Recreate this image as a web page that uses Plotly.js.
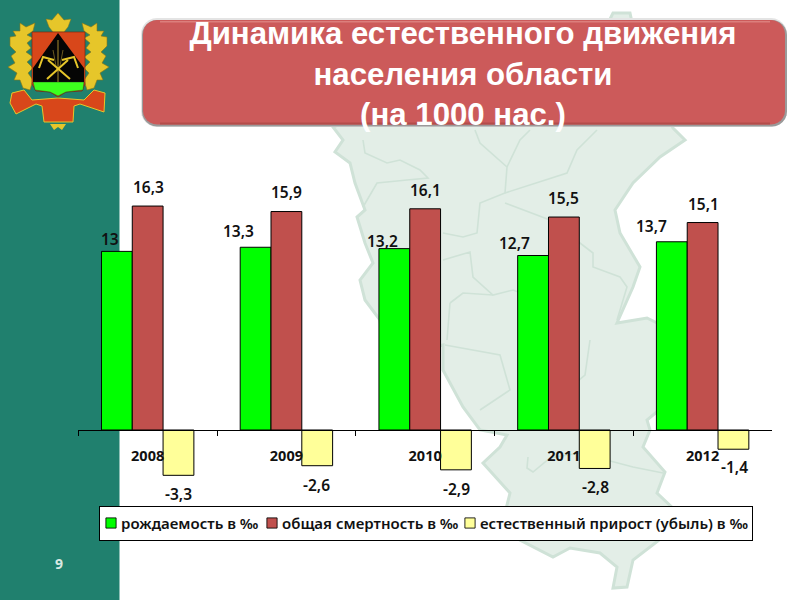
<!DOCTYPE html>
<html><head><meta charset="utf-8">
<script src="https://cdn.plot.ly/plotly-3.0.1.min.js"></script>
<style>html,body{margin:0;padding:0;background:#fff}#c{width:800px;height:600px}</style>
</head><body><div id="c"></div>
<script>
const years = ['2008','2009','2010','2011','2012'];
const birth = [13,13.3,13.2,12.7,13.7];
const death = [16.3,15.9,16.1,15.5,15.1];
const natural = [-3.3,-2.6,-2.9,-2.8,-1.4];
const seriesNames = ['рождаемость в ‰','общая смертность в ‰','естественный прирост (убыль) в ‰'];
const titleText = 'Динамика естественного движения<br>населения области<br>(на 1000 нас.)';

// label nudges in px, relative to the end of each bar
const nudgeBirth = [[-7,12],[-17,16],[-12,8],[-19,13],[-20,16]];
const nudgeDeath = [[1,19],[0,20],[0,19],[0,19],[1,19]];
const nudgeNat = [[0,-19],[-1,-19],[1,-19],[1,-19],[1,-18]];

const W=800,H=600;
const fmt = v => String(v).replace('.',',');
const NOTO='"Noto Sans","Open Sans",sans-serif';
const LABEL_FONT = {family:NOTO,size:15.5,color:'#111',weight:600};
const barShare = 92.4/138.7;
const barW = barShare/3;

function labels(vals,nudge,off){
  return vals.map((v,i)=>({xref:'x',yref:'y',x:i+off*barW,y:v,text:fmt(v),showarrow:false,
    xanchor:'center',yanchor:'middle',xshift:nudge[i][0],yshift:nudge[i][1],font:LABEL_FONT}));
}
// decorative page furniture in page pixels
const P=(pts,close)=>pts.map((p,i)=>(i?'L':'M')+(p[0]/W).toFixed(5)+','+(1-p[1]/H).toFixed(5)).join(' ')+(close?' Z':'');
const shape=(pts,fill,line,lw,close=true)=>({type:'path',xref:'paper',yref:'paper',layer:'below',path:P(pts,close),
  fillcolor:fill||'rgba(0,0,0,0)',line:{color:line||'rgba(0,0,0,0)',width:lw||0}});
const rect=(x0,y0,x1,y1,fill)=>shape([[x0,y0],[x1,y0],[x1,y1],[x0,y1]],fill);
function rounded(x0,y0,x1,y1,r,fill,line,lw){
  const c=(x,y,a)=>{const o=[];for(let k=0;k<=6;k++){const t=a+k/6*Math.PI/2;o.push([x+r*Math.cos(t),y+r*Math.sin(t)]);}return o;};
  return shape([...c(x1-r,y1-r,0),...c(x0+r,y1-r,Math.PI/2),...c(x0+r,y0+r,Math.PI),...c(x1-r,y0+r,-Math.PI/2)],fill,line,lw);
}
const MAPFILL='#e3eee7',MAPLINE='#cfe2d7';
const mapOutline=[[333,127],[343,140],[335,152],[350,163],[355,183],[365,210],[357,217],[365,243],[373,263],[360,280],[365,300],[380,320],[385,360],
 [443,345],[443,370],[463,407],[480,430],[507,435],[500,447],[483,463],[510,493],[505,513],[520,540],[553,557],[570,548],[600,553],[617,567],[613,588],[627,587],[633,560],[663,537],[675,510],[657,493],[665,472],[643,447],[650,430],[647,420],[665,405],[665,327],[647,318],[617,323],[633,287],[640,267],[620,233],[615,210],[633,183],[660,157],[685,140],[673,128],[640,60],[630,13],[613,13],[590,60],[400,100]];
const mapLines=[
 [[363,140],[365,153],[387,163],[400,160],[420,170],[428,178],[407,180],[377,183],[363,207]],
 [[475,130],[480,143],[507,167],[505,193],[480,203],[477,233],[463,237],[443,233]],
 [[507,167],[520,140],[530,130]],
 [[505,193],[567,173],[577,150],[597,130]],
 [[505,203],[550,220],[593,253],[593,267],[620,277],[627,287],[617,320]],
 [[443,260],[470,252],[473,277],[493,295],[513,290],[540,300]],
 [[450,303],[463,293],[493,295]],
 [[450,303],[447,340]],
 [[590,340],[585,375],[555,400],[545,430]],
 [[445,345],[500,355],[510,390],[480,410]],
 [[528,457],[527,468],[533,472],[550,458],[580,453],[633,467],[663,473]]
];
const gold='#e6c62a',orange='#d8471a',darkg='#8a7514';
const laurelL=[[10,37],[16,36],[13,31],[20,31],[20,23],[26,27],[35,23],[33,31],[27,35],[33,38],[27,43],[31,48],[26,52],[33,57],[27,62],[33,68],[28,73],[33,80],[30,90],[23,88],[20,80],[14,80],[17,73],[8,67],[15,63],[11,56],[16,52],[10,46]];
const laurelR=laurelL.map(p=>[117-p[0],p[1]]);
const crest=[
 shape(laurelL,gold,darkg,0.6),
 shape(laurelR,gold,darkg,0.6),
 shape([[46,19],[52,20],[58,13],[64,20],[71,19],[68,27],[64,32],[53,32],[49,27]],gold,darkg,0.5),
 shape([[10,103],[12,93],[24,90],[32,100],[58,98],[84,100],[94,90],[105,93],[104,112],[80,104],[74,106],[73,122],[44,122],[42,106],[36,104],[16,114]],orange,gold,1),
 shape([[50,124],[66,124],[62,130],[58,127],[54,130]],gold),
 shape([[32,32],[85,32],[85,84],[82,91],[66,92],[58,97],[50,92],[36,91],[32,84]],orange,'#7a2a10',0.7),
 shape([[58,33],[84,68],[84,82],[33,82],[33,68]],'#050505'),
 shape([[33,82],[84,82],[83,90],[66,92],[58,96],[50,92],[35,90]],'#3dff1e','#222',0.4),
 shape([[58,40],[58,82]],null,'#6b5a20',1.6,false),
 shape([[53,50],[56,66],[58,72]],null,'#6b5a20',1,false),
 shape([[63,50],[60,66],[58,72]],null,'#6b5a20',1,false),
 shape([[48,60],[70,79]],null,gold,2,false),
 shape([[68,60],[47,79]],null,gold,2,false),
 shape([[39,68],[43,57],[54,60]],null,gold,2,false),
 shape([[78,68],[74,57],[62,60]],null,gold,2,false)
];
const shapes=[
 rect(0,0,119.5,H,'#20806e'),
 ...crest,
 shape(mapOutline,MAPFILL,MAPLINE,3),
 ...mapLines.map(l=>shape(l,null,MAPLINE,1.6,false)),
 rounded(141,18,787,127,16,'#e4e4e4'),
 rounded(142,20,787,126.5,15,'#9a9a9a'),
 rounded(143,20,785,124.5,14,'#cc5a5a'),
 rect(160,21,770,22.5,'#dc7f7c'),
 rect(160,122.5,770,124.5,'#b44c4a')
];

const bar=(name,y,color)=>({type:'bar',name,x:years,y,marker:{color,line:{color:'#000',width:1}},hoverinfo:'skip'});
const data=[bar(seriesNames[0],birth,'#00ff00'),bar(seriesNames[1],death,'#c0504d'),bar(seriesNames[2],natural,'#ffff99')];

const layout={
 width:W,height:H,margin:{l:0,r:0,t:0,b:0,pad:0},paper_bgcolor:'#fff',plot_bgcolor:'rgba(0,0,0,0)',
 barmode:'group',bargap:1-barShare,bargroupgap:0,
 title:{text:titleText,x:463/W,xanchor:'center',xref:'paper',y:1-44/H,yanchor:'top',yref:'container',
   font:{family:'"Liberation Sans",Arial,sans-serif',size:31.2,color:'#fff',weight:700},pad:{t:0,b:0,l:0,r:0}},
 xaxis:{type:'category',domain:[78.3/W,772/W],anchor:'free',position:1-430/H,tickson:'boundaries',ticks:'outside',ticklen:5,tickcolor:'#000',tickwidth:1,
   showline:true,linecolor:'#000',linewidth:1,showgrid:false,zeroline:false,ticklabelstandoff:13,
   tickfont:{family:NOTO,size:14.5,color:'#111',weight:700}},
 yaxis:{domain:[1-505/H,1-175/H],range:[-5.46,18.56],visible:false,fixedrange:true},
 legend:{orientation:'h',x:99/W,xanchor:'left',y:1-506/H,yanchor:'top',bgcolor:'#fff',bordercolor:'#000',borderwidth:1,
   font:{family:NOTO,size:15,color:'#111',weight:600},itemwidth:30,entrywidth:100,entrywidthmode:'pixels',traceorder:'normal'},
 shapes,
 annotations:[...labels(birth,nudgeBirth,-1),...labels(death,nudgeDeath,0),...labels(natural,nudgeNat,1),
  {xref:'paper',yref:'paper',x:59/W,y:1-563/H,text:'9',showarrow:false,xanchor:'center',yanchor:'middle',
   font:{family:NOTO,size:14,color:'#d8e8e2',weight:700}}]
};
// tighten the native legend: swatch right beside its text, as in the reference
const LEGEND_BOX=[653,34], ENTRY_X=[6,167,365];
Plotly.newPlot('c',data,layout,{displayModeBar:false,staticPlot:true}).then(gd=>{
  const lg=gd.querySelector('.legend'); if(!lg) return;
  const bg=lg.querySelector('rect.bg');
  if(bg){bg.setAttribute('width',LEGEND_BOX[0]);bg.setAttribute('height',LEGEND_BOX[1]);}
  const sb=lg.querySelector('.scrollbox'); if(sb) sb.removeAttribute('clip-path');
  lg.querySelectorAll('.traces').forEach((g,i)=>{
    g.setAttribute('transform','translate('+ENTRY_X[i]+','+(LEGEND_BOX[1]/2)+')');
    const t=g.querySelector('text.legendtext'); if(t) t.setAttribute('x',16);
    g.querySelectorAll('path.legendundefined').forEach(p=>{p.setAttribute('transform','translate(6,0) scale(.85)');});
  });
});
</script></body></html>
